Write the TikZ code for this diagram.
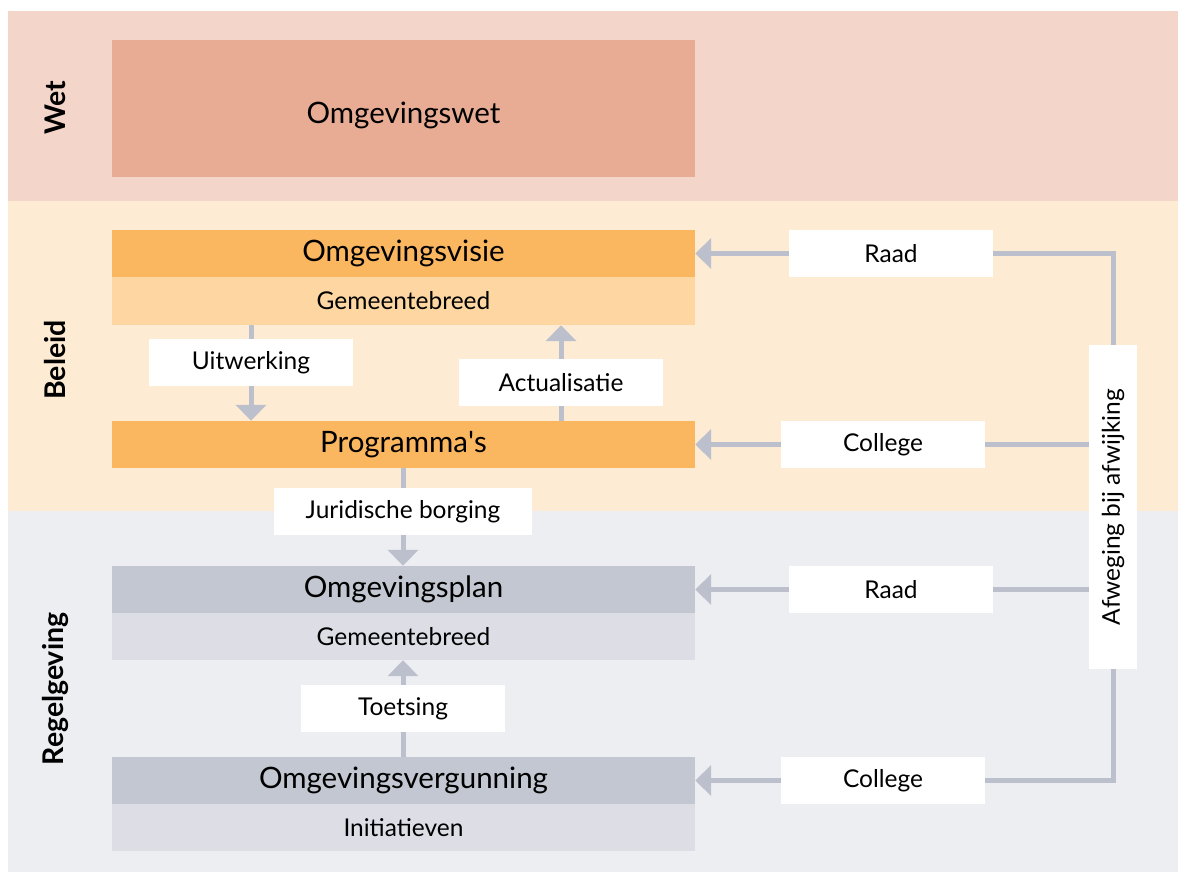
\documentclass[tikz,border=0pt]{standalone}
\usepackage{fontspec}
\setmainfont{Lato}
\usetikzlibrary{arrows.meta}
\definecolor{wetband}{HTML}{F4D5CA}
\definecolor{wetbox}{HTML}{E8AC95}
\definecolor{belband}{HTML}{FDEBD3}
\definecolor{belhead}{HTML}{FBB660}
\definecolor{belsub}{HTML}{FDD6A1}
\definecolor{regband}{HTML}{EDEEF2}
\definecolor{reghead}{HTML}{C3C7D1}
\definecolor{regsub}{HTML}{DCDDE5}
\definecolor{conncol}{HTML}{BCC0CD}
\tikzset{
  mainbox/.style={rectangle, inner sep=0pt, minimum width=583pt, minimum height=47pt, font=\fontsize{29.5}{33}\selectfont},
  subbox/.style={rectangle, inner sep=0pt, minimum width=583pt, minimum height=47pt, font=\fontsize{24.5}{28}\selectfont},
  lbl/.style={rectangle, fill=white, inner sep=0pt, minimum width=204pt, minimum height=47pt, font=\fontsize{24.5}{28}\selectfont},
  sidelbl/.style={rotate=90, inner sep=0pt, font=\fontsize{28.5}{32}\selectfont\bfseries},
  conn/.style={draw=conncol, line width=5pt},
  arr/.style={conn, -{Triangle[length=16pt, width=30pt]}},
}
\begin{document}
\begin{tikzpicture}[x=1pt, y=-1pt]
\useasboundingbox (0,0) rectangle (1178,872);
% bands
\fill[wetband] (8,11) rectangle (1178,201);
\fill[belband] (8,201) rectangle (1178,511);
\fill[regband] (8,511) rectangle (1178,872);
% side labels
\node[sidelbl] (swet) at (55,108) {Wet};
\node[sidelbl] (sbel) at (55,360) {Beleid};
\node[sidelbl] (sreg) at (55,689) {Regelgeving};
% main boxes
\node[mainbox, fill=wetbox, minimum height=137pt] (wet) at (403.5,108.5) {};
\node[mainbox, minimum height=0pt] (wettext) at (403.5,115) {Omgevingswet};
\node[mainbox, fill=belhead] (visie) at (403.5,253.5) {Omgevingsvisie};
\node[subbox, fill=belsub, minimum height=48pt] (visiesub) at (403.5,301) {Gemeentebreed};
\node[mainbox, fill=belhead] (prog) at (403.5,444.5) {Programma\textquotesingle s};
\node[mainbox, fill=reghead] (plan) at (403.5,589.5) {Omgevingsplan};
\node[subbox, fill=regsub] (plansub) at (403.5,636.5) {Gemeentebreed};
\node[mainbox, fill=reghead] (verg) at (403.5,780.5) {Omgevingsvergunning};
\node[subbox, fill=regsub] (vergsub) at (403.5,827.5) {Initiatieven};
% labels
\node[lbl] (raad1) at (891,253.5) {Raad};
\node[lbl] (coll1) at (883,444.5) {College};
\node[lbl] (raad2) at (891,589.5) {Raad};
\node[lbl] (coll2) at (883,780.5) {College};
\node[lbl] (uitw) at (251,362.5) {Uitwerking};
\node[lbl] (actu) at (561,382.5) {Actualisatie};
\node[lbl, minimum width=258pt] (jur) at (403,511.5) {Juridische borging};
\node[lbl] (toets) at (403,708.5) {Toetsing};
\node[lbl, minimum width=48pt, minimum height=324pt] (afw) at (1113,507) {\rotatebox{90}{Afweging bij afwijking}};
% connectors
\draw[arr] (raad1.west) -- (visie.east);
\draw[arr] (coll1.west) -- (prog.east);
\draw[arr] (raad2.west) -- (plan.east);
\draw[arr] (coll2.west) -- (verg.east);
\draw[conn] (raad1.east) -| (afw.north);
\draw[conn] (coll2.east) -| (afw.south);
\draw[conn] (coll1.east) -- (coll1.east -| afw.west);
\draw[conn] (raad2.east) -- (raad2.east -| afw.west);
\draw[conn] (visiesub.south -| uitw.north) -- (uitw.north);
\draw[arr] (uitw.south) -- (prog.north -| uitw.south);
\draw[conn] (prog.north -| actu.south) -- (actu.south);
\draw[arr] (actu.north) -- (visiesub.south -| actu.north);
\draw[conn] (prog.south -| jur.north) -- (jur.north);
\draw[arr] (jur.south) -- (plan.north -| jur.south);
\draw[conn] (verg.north -| toets.south) -- (toets.south);
\draw[arr] (toets.north) -- (plansub.south -| toets.north);
\end{tikzpicture}
\end{document}
